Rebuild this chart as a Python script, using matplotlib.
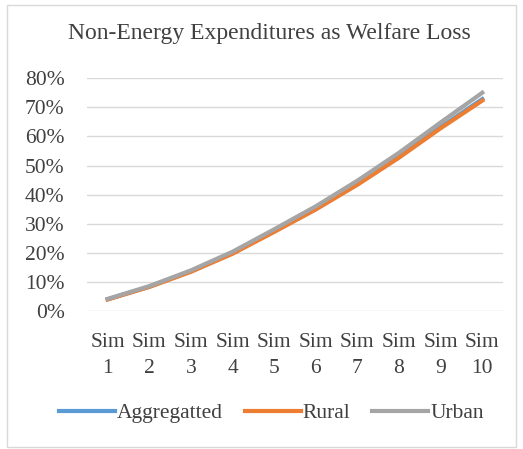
#   import modules
import matplotlib
matplotlib.use('Agg')
import matplotlib.pyplot as plt
from matplotlib.patches import Rectangle
from matplotlib.ticker import PercentFormatter

#   chart data
categories = ['Sim\n1', 'Sim\n2', 'Sim\n3', 'Sim\n4', 'Sim\n5',
              'Sim\n6', 'Sim\n7', 'Sim\n8', 'Sim\n9', 'Sim\n10']
aggregated = [0.041, 0.084, 0.137, 0.200, 0.275, 0.352, 0.438, 0.531, 0.632, 0.728]
rural = [0.040, 0.083, 0.135, 0.197, 0.272, 0.349, 0.434, 0.527, 0.628, 0.723]
urban = [0.042, 0.086, 0.140, 0.204, 0.281, 0.360, 0.448, 0.544, 0.648, 0.750]

#   excel style colors
colors = ['#5B9BD5', '#ED7D31', '#A5A5A5']

plt.rcParams['font.family'] = ['Liberation Serif', 'DejaVu Serif']

fig = plt.figure(figsize=(5.23, 4.49), dpi=100)
#   outer chart border
fig.patches.append(Rectangle((7 / 523, 2 / 449), 509 / 523, 442 / 449,
                             transform=fig.transFigure, fill=False,
                             edgecolor='#D9D9D9', linewidth=1))

ax = fig.add_axes([0.166, 0.307, 0.796, 0.519])
x = range(len(categories))
ax.plot(x, aggregated, color=colors[0], linewidth=3, label='Aggregatted')
ax.plot(x, rural, color=colors[1], linewidth=3, label='Rural')
ax.plot(x, urban, color=colors[2], linewidth=3, label='Urban')

#   axes options
ax.set_xlim(-0.5, len(categories) - 0.5)
ax.set_ylim(0, 0.8)
ax.set_yticks([i / 10 for i in range(9)])
ax.yaxis.set_major_formatter(PercentFormatter(1.0, decimals=0))
ax.set_xticks(list(x))
ax.set_xticklabels(categories)
for label in ax.get_xticklabels():
    label.set_linespacing(1.45)
ax.tick_params(axis='both', length=0, labelsize=15.5, colors='#404040')
ax.tick_params(axis='x', pad=16)
ax.tick_params(axis='y', pad=16)
ax.grid(axis='y', color='#D9D9D9', linewidth=1)
ax.set_axisbelow(True)
for spine in ax.spines.values():
    spine.set_visible(False)

fig.text(0.516, 1 - 33 / 449, 'Non-Energy Expenditures as Welfare Loss',
         ha='center', va='center', fontsize=17, color='#404040')

fig.legend(loc='center', bbox_to_anchor=(0.519, 1 - 413 / 449), ncol=3,
           frameon=False, fontsize=15.5, handlelength=2.6, handletextpad=0.1,
           columnspacing=1.0, labelcolor='#404040')

fig.savefig('out.png', dpi=100)
